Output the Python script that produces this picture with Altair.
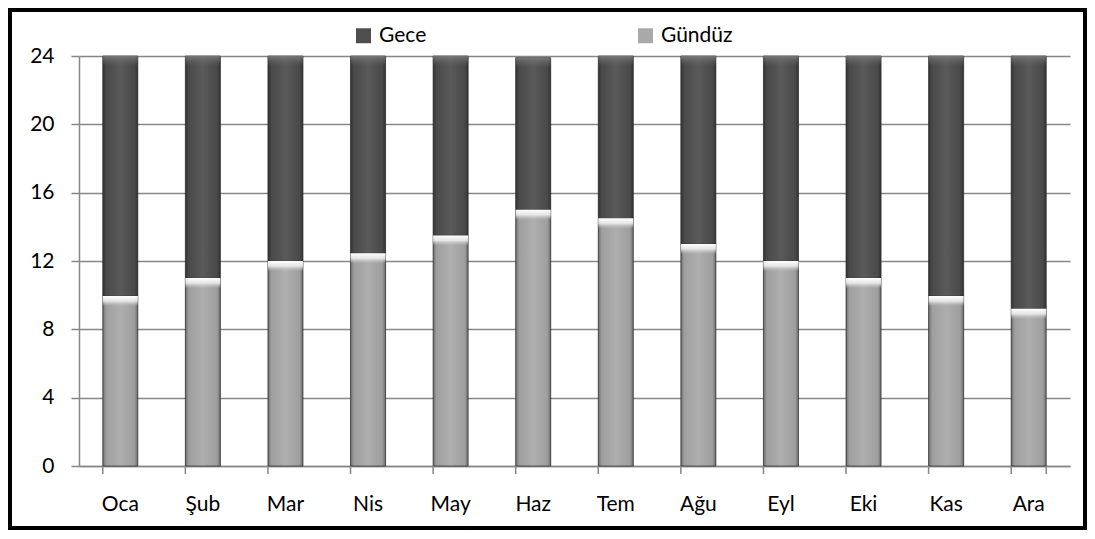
import altair as alt
import pandas as pd

months = ["Oca", "Şub", "Mar", "Nis", "May", "Haz", "Tem", "Ağu", "Eyl", "Eki", "Kas", "Ara"]
gunduz = [9.95, 11.0, 12.0, 12.45, 13.5, 15.0, 14.5, 13.0, 12.0, 11.0, 9.95, 9.2]
gece = [14.05, 13.0, 12.0, 11.55, 10.5, 8.9, 9.5, 11.0, 12.0, 13.0, 14.05, 14.8]
series = ["Gece", "Gündüz"]
y_ticks = [0, 4, 8, 12, 16, 20, 24]

rows = []
for m, d, n in zip(months, gunduz, gece):
    rows.append({"month": m, "series": "Gündüz", "start": 0.0, "end": d})
    rows.append({"month": m, "series": "Gece", "start": d, "end": d + n})
df = pd.DataFrame(rows)
df["bev"] = df["end"] - 0.6
df_day = df[df["series"] == "Gündüz"]
df_night = df[df["series"] == "Gece"]

W, H = 991, 410
FONT = "Lato"
GRID = "#878787"

xscale = alt.Scale(domain=months, paddingInner=0.576, paddingOuter=0.288)
yscale = alt.Scale(domain=[0, 24], nice=False)

x_enc = alt.X(
    "month:N", sort=months, scale=xscale, title=None,
    axis=alt.Axis(labelAngle=0, ticks=False, domain=True, domainColor=GRID, domainWidth=1.5,
                  labelPadding=27, labelFont=FONT, labelFontSize=21, labelColor="#000000", grid=False),
)
y_enc = alt.Y(
    "start:Q", scale=yscale, title=None,
    axis=alt.Axis(values=y_ticks, grid=True, gridColor=GRID, gridWidth=1.5, domain=True,
                  domainColor=GRID, domainWidth=1.5, tickSize=8, tickColor=GRID, tickWidth=1.5,
                  labelPadding=17, labelFont=FONT, labelFontSize=21, labelColor="#000000"),
)

bars = alt.Chart(df).mark_bar(stroke="#3c3c3c", strokeWidth=0.8).encode(
    x=x_enc,
    y=y_enc,
    y2="end:Q",
    color=alt.Color(
        "series:N",
        scale=alt.Scale(domain=series, range=["#4e4e4e", "#a9a9a9"]),
        legend=alt.Legend(
            title=None, orient="none", legendX=274, legendY=-31, direction="horizontal",
            columns=2, columnPadding=208, symbolType="square", symbolSize=225,
            symbolStrokeWidth=0, labelFont=FONT, labelFontSize=21, labelColor="#000000",
            labelOffset=5, padding=0,
        ),
    ),
)

shade = alt.Chart(df).mark_bar(
    fill=alt.Gradient(
        gradient="linear", x1=0, x2=1, y1=0, y2=0,
        stops=[
            alt.GradientStop(color="rgba(0,0,0,0.35)", offset=0),
            alt.GradientStop(color="rgba(0,0,0,0.06)", offset=0.1),
            alt.GradientStop(color="rgba(255,255,255,0.07)", offset=0.5),
            alt.GradientStop(color="rgba(0,0,0,0.06)", offset=0.9),
            alt.GradientStop(color="rgba(0,0,0,0.35)", offset=1),
        ],
    )
).encode(x=alt.X("month:N", sort=months), y=alt.Y("start:Q"), y2="end:Q")

bevel_day = alt.Chart(df_day).mark_bar(
    fill=alt.Gradient(
        gradient="linear", x1=0, x2=0, y1=0, y2=1,
        stops=[
            alt.GradientStop(color="rgba(255,255,255,1)", offset=0),
            alt.GradientStop(color="rgba(240,240,240,0.85)", offset=0.5),
            alt.GradientStop(color="rgba(200,200,200,0)", offset=1),
        ],
    )
).encode(x=alt.X("month:N", sort=months), y=alt.Y("bev:Q"), y2="end:Q")

bevel_night = alt.Chart(df_night).mark_bar(
    fill=alt.Gradient(
        gradient="linear", x1=0, x2=0, y1=0, y2=1,
        stops=[
            alt.GradientStop(color="rgba(130,130,130,0.8)", offset=0),
            alt.GradientStop(color="rgba(100,100,100,0)", offset=1),
        ],
    )
).encode(x=alt.X("month:N", sort=months), y=alt.Y("bev:Q"), y2="end:Q")

tick_df = pd.DataFrame({"month": months})
xticks = alt.Chart(tick_df).mark_rule(color=GRID, strokeWidth=1.5).encode(
    x=alt.X("month:N", sort=months, bandPosition=0),
    y=alt.value(H),
    y2=alt.value(H + 8),
)
end_tick = alt.Chart(pd.DataFrame({"month": [months[-1]]})).mark_rule(color=GRID, strokeWidth=1.5).encode(
    x=alt.X("month:N", sort=months, bandPosition=1),
    y=alt.value(H),
    y2=alt.value(H + 8),
)

border = alt.Chart(pd.DataFrame({"a": [0]})).mark_rect(
    fillOpacity=0, stroke="#000000", strokeWidth=4
).encode(x=alt.value(-69), x2=alt.value(W + 15), y=alt.value(-46), y2=alt.value(H + 62))

chart = alt.layer(bars, shade, bevel_day, bevel_night, xticks, end_tick, border).properties(
    width=W,
    height=H,
    padding={"left": 71, "top": 48, "right": 17, "bottom": 65},
    autosize=alt.AutoSizeParams(type="none"),
    background="#ffffff",
).configure_view(stroke=None)

chart.save("out.html", embed_options={"renderer": "svg", "actions": False})
